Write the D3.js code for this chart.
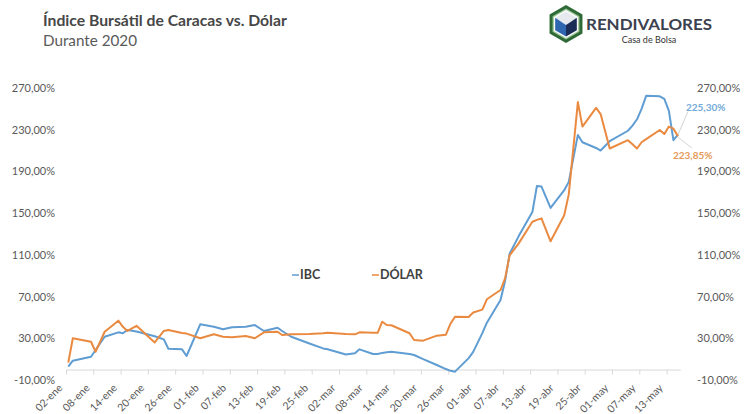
<!DOCTYPE html>
<html><head><meta charset="utf-8">
<script src="https://cdn.jsdelivr.net/npm/d3@7"></script>
<style>
html,body{margin:0;padding:0;background:#fff;}
svg{display:block;}
text{font-family:Lato,"Open Sans",sans-serif;}
</style></head><body>
<svg id="chart" width="744" height="414"></svg>
<script>
// ---- data ----
const dates = ["2020-01-02","2020-01-03","2020-01-07","2020-01-08","2020-01-10","2020-01-13","2020-01-14","2020-01-15","2020-01-17","2020-01-21","2020-01-23","2020-01-24","2020-01-27","2020-01-28","2020-01-31",
"2020-02-03","2020-02-05","2020-02-07","2020-02-10","2020-02-12","2020-02-14","2020-02-17","2020-02-18","2020-02-20","2020-02-24","2020-02-27","2020-02-28",
"2020-03-03","2020-03-05","2020-03-06","2020-03-09","2020-03-10","2020-03-11","2020-03-12","2020-03-13","2020-03-17","2020-03-18","2020-03-20","2020-03-23","2020-03-25","2020-03-26","2020-03-27","2020-03-30","2020-03-31",
"2020-04-02","2020-04-03","2020-04-06","2020-04-07","2020-04-08","2020-04-10","2020-04-13","2020-04-14","2020-04-15","2020-04-17","2020-04-20","2020-04-21","2020-04-23","2020-04-24","2020-04-27","2020-04-28","2020-04-30",
"2020-05-04","2020-05-05","2020-05-06","2020-05-07","2020-05-08","2020-05-11","2020-05-12","2020-05-13","2020-05-14","2020-05-15"];
const ibc = [2.8,8.5,12.3,18.8,31.5,35.7,34.8,38,36.5,32,29,20,19.4,13,43.4,
41.1,38.6,40.5,41,42.7,37,40.1,37,31.5,25,20.3,19.5,
14.5,15.6,19.4,15,15,16,16.5,17,15,14,10,4.4,0.5,-1.2,-2,11,17,
35,45,66.7,85,111,128,151,176,175.5,155,172,180,225,218,212.5,210,219,
229,234,240,250,262.5,262,259.5,248,220,225.3];
const dolar = [6.6,30,26.7,17.1,36.3,46.9,41,37,42,26,37,38,35,34.5,30,
33.8,31.5,31,32.2,30,35.7,36.3,33.1,33.8,34.2,34.8,35.3,
34,33.8,35.7,35.4,35.3,45.9,42.7,42.5,34.8,28.4,27.7,32.5,33.5,44,50.7,50.4,54.7,
57.5,67.4,76.3,87.4,109.5,121,141.8,143.5,145,123,148,168,256.5,233,251,245,212,
220,216,212,218,221,229.7,225.8,233,231,223.85];
const tickLabels = ["02-ene","08-ene","14-ene","20-ene","26-ene","01-feb","07-feb","13-feb","19-feb","25-feb","02-mar","08-mar","14-mar","20-mar","26-mar","01-abr","07-abr","13-abr","19-abr","25-abr","01-may","07-may","13-may"];
const yTicks = [-10,30,70,110,150,190,230,270];
const seriesNames = ["IBC","DÓLAR"];
const titleText = "Índice Bursátil de Caracas vs. Dólar";
const subtitleText = "Durante 2020";

// ---- setup ----
const svg = d3.select("#chart");
const colors = {IBC:"#5f9dd2", "DÓLAR":"#ea8a40"};
const labelColors = {IBC:"#72aad8", "DÓLAR":"#e49a58"};
const monthIdx = {ene:0,feb:1,mar:2,abr:3,may:4};
const parse = s => { const p = s.split("-"); return new Date(Date.UTC(+p[0], +p[1]-1, +p[2])); };
const tickDates = tickLabels.map(l => { const p = l.split("-"); return new Date(Date.UTC(2020, monthIdx[p[1]], +p[0])); });
const DAY = 86400000;
const d0 = parse(dates[0]);
const dN = new Date(parse(dates[dates.length-1]).getTime() + DAY);
const nDays = (dN - d0)/DAY;

const x = d3.scaleUtc().domain([d0, dN]).range([66, 66 + nDays*4.55]);
const y = d3.scaleLinear().domain([-10, 270]).range([380, 88]);
const xc = s => x(new Date(parse(s).getTime() + DAY/2));

// title
function fit(sel, target){ const w = sel.node().getComputedTextLength(); sel.attr("font-size", parseFloat(sel.attr("font-size"))*target/w); }
const t1 = svg.append("text").attr("x",43).attr("y",26).attr("font-size",15).attr("font-weight","bold").attr("fill","#474747").text(titleText);
fit(t1, 244);
const t2 = svg.append("text").attr("x",43).attr("y",46).attr("font-size",15).attr("fill","#5a5a5a").text(subtitleText);
fit(t2, 94);

// logo
const logo = svg.append("g");
const hx = 566, hy = 24;
const hexPts = r => d3.range(6).map(i => { const a = Math.PI/180*(60*i - 90); return [hx + r*Math.cos(a), hy + r*Math.sin(a)]; });
logo.append("polygon").attr("points", hexPts(19).join(" ")).attr("fill","#2f6a36");
logo.append("polygon").attr("points", hexPts(15.5).join(" ")).attr("fill","#9cc79a");
logo.append("polygon").attr("points", hexPts(14).join(" ")).attr("fill","#ffffff");
const c = hexPts(12.5);
logo.append("polygon").attr("points", [c[0],c[1],[hx,hy+1],c[5]].join(" ")).attr("fill","#e6e9ee");
logo.append("polygon").attr("points", [c[5],[hx,hy+1],c[3],c[4]].join(" ")).attr("fill","#2f66b0");
logo.append("polygon").attr("points", [[hx,hy+1],c[1],c[2],c[3]].join(" ")).attr("fill","#1b2d57");
logo.append("text").attr("x",586).attr("y",30).attr("font-family","'Liberation Serif',serif").attr("font-weight","bold")
  .attr("font-size",16).attr("fill","#3b414e").attr("textLength",126).attr("lengthAdjust","spacingAndGlyphs").text("RENDIVALORES");
logo.append("text").attr("x",649).attr("y",43).attr("text-anchor","middle").attr("font-family","'Liberation Serif',serif")
  .attr("font-size",9).attr("fill","#333").text("Casa de Bolsa");

// axes
const fmt = v => v.toFixed(2).replace(".", ",") + "%";
const yl = svg.append("g").attr("transform","translate(55,0)").call(d3.axisLeft(y).tickValues(yTicks).tickSize(0).tickPadding(0).tickFormat(fmt));
const yr = svg.append("g").attr("transform","translate(697,0)").call(d3.axisRight(y).tickValues(yTicks).tickSize(0).tickPadding(0).tickFormat(fmt));
[yl, yr].forEach(g => { g.select(".domain").remove(); g.selectAll("text").attr("font-size",11).attr("fill","#595959").attr("font-family","Lato,sans-serif"); });

const y0 = y(0);
const xa = svg.append("g").attr("transform",`translate(0,${y0})`)
  .call(d3.axisBottom(x).tickValues(tickDates).tickSize(5).tickSizeOuter(0).tickFormat((d,i) => tickLabels[i]));
xa.select(".domain").attr("stroke","#d9d9d9");
xa.selectAll(".tick line").attr("stroke","#d9d9d9");
xa.selectAll("text").attr("font-size",10.5).attr("fill","#595959").attr("font-family","Lato,sans-serif")
  .attr("text-anchor","end").attr("x",0).attr("y",0).attr("dy","0.35em")
  .attr("transform",`translate(-6,${386 - y0}) rotate(-45)`);

// lines
const series = [{name:"IBC", values:ibc}, {name:"DÓLAR", values:dolar}];
const line = d3.line().x((d,i) => xc(dates[i])).y(d => y(d));
series.forEach(s => {
  svg.append("path").datum(s.values).attr("d", line).attr("fill","none")
    .attr("stroke", colors[s.name]).attr("stroke-width",2).attr("stroke-linejoin","round");
});

// end labels
const li = dates.length - 1;
const lx = xc(dates[li]);
const ibcY = y(ibc[li]), dolY = y(dolar[li]);
svg.append("line").attr("x1",lx).attr("y1",ibcY).attr("x2",lx+10).attr("y2",ibcY-23).attr("stroke","#c8c8c8").attr("stroke-width",0.8);
svg.append("text").attr("x",lx+8).attr("y",ibcY-24).attr("font-size",10).attr("font-weight","bold").attr("fill",labelColors.IBC).text(fmt(ibc[li]));
svg.append("line").attr("x1",lx).attr("y1",dolY+1).attr("x2",lx+14).attr("y2",dolY+12).attr("stroke","#c8c8c8").attr("stroke-width",0.8);
svg.append("text").attr("x",lx-5).attr("y",dolY+23).attr("font-size",10).attr("font-weight","bold").attr("fill",labelColors["DÓLAR"]).text(fmt(dolar[li]));

// legend
const legX = [292, 372];
seriesNames.forEach((n,i) => {
  const g = svg.append("g").attr("transform",`translate(${legX[i]},275)`);
  g.append("line").attr("x1",0).attr("x2",7).attr("y1",0).attr("y2",0).attr("stroke",colors[n]).attr("stroke-width",1.5);
  g.append("text").attr("x",8).attr("y",0).attr("dy","0.35em").attr("font-size",12.5).attr("font-weight","bold").attr("fill","#404040").text(n);
});
</script>
</body></html>
